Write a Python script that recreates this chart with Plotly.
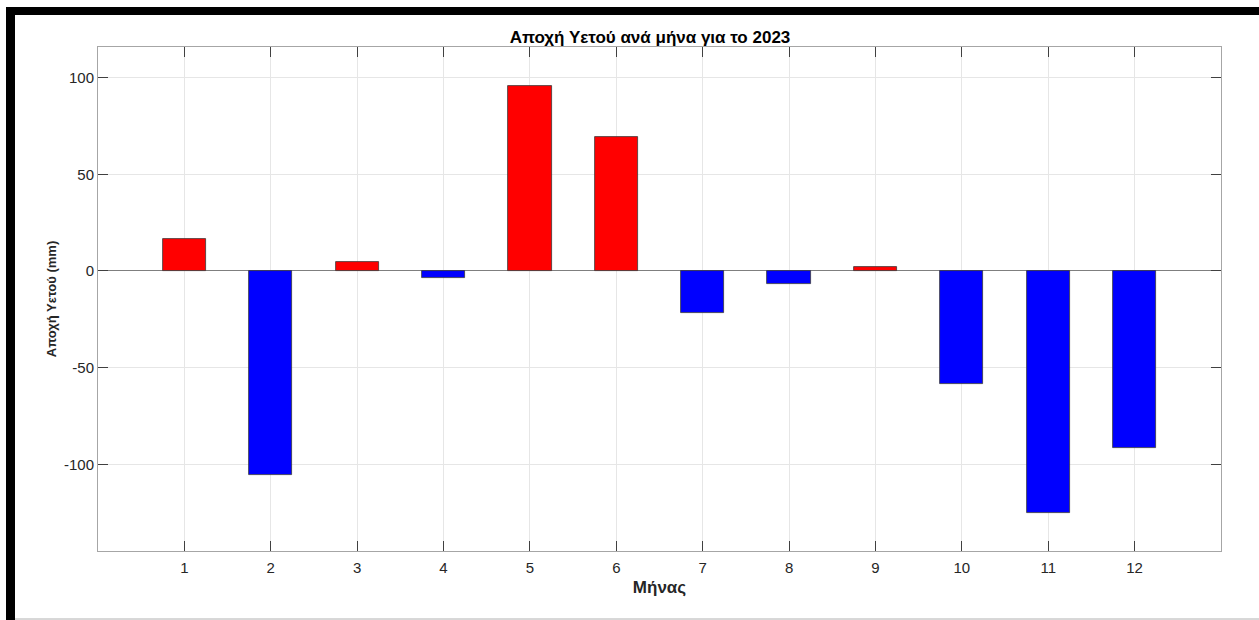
import plotly.graph_objects as go

months = [1, 2, 3, 4, 5, 6, 7, 8, 9, 10, 11, 12]
anomaly_mm = [16.5, -105.5, 4.5, -3.8, 95.8, 69.3, -21.8, -6.6, 2.0, -58.5, -125.3, -91.7]
y_ticks = [-100, -50, 0, 50, 100]
y_tick_labels = ['-100', '-50', '0', '50', '100']

W, H = 1259, 620
L, R, T, B = 98, 38, 47, 69
pw, ph = W - L - R, H - T - B

def px(x):
    return (x - L) / pw

def py(y):
    return (H - B - y) / ph

colors = ['#FF0000' if v >= 0 else '#0000FF' for v in anomaly_mm]

fig = go.Figure()
fig.add_trace(go.Bar(
    x=months, y=anomaly_mm, width=0.5,
    marker=dict(color=colors, line=dict(color='#3a3a3a', width=0.8)),
    showlegend=False,
))

font = 'Liberation Sans, Arial, sans-serif'
fig.update_layout(
    width=W, height=H,
    margin=dict(l=L, r=R, t=T, b=B),
    paper_bgcolor='white', plot_bgcolor='white',
    font=dict(family=font, size=15, color='#262626'),
    title=dict(text='<b>Αποχή Υετού ανά μήνα για το 2023</b>', x=(650 - L) / pw, xref='paper',
               xanchor='center', y=1 - 37 / H, yanchor='middle',
               font=dict(size=17, color='black')),
    bargap=0,
)
fig.update_xaxes(
    range=[0, 13], tickvals=months, ticktext=[str(m) for m in months],
    showgrid=True, gridcolor='#e6e6e6', gridwidth=1,
    showline=True, linecolor='#a6a6a6', linewidth=1, mirror='ticks',
    ticks='inside', ticklen=10, tickcolor='#404040', tickwidth=1,
    ticklabelstandoff=3,
    title=dict(text='<b>Μήνας</b>', standoff=6, font=dict(size=17, color='#262626')),
    zeroline=False,
)
fig.update_yaxes(
    range=[-144.8, 115.8], tickvals=y_ticks, ticktext=y_tick_labels,
    showgrid=True, gridcolor='#e6e6e6', gridwidth=1,
    showline=True, linecolor='#a6a6a6', linewidth=1, mirror='ticks',
    ticks='inside', ticklen=10, tickcolor='#404040', tickwidth=1,
    zeroline=True, zerolinecolor='#7f7f7f', zerolinewidth=1,
    title=dict(text='<b>Αποχή Υετού (mm)</b>', standoff=4, font=dict(size=13, color='#262626')),
)

# black frame (top and left) and faint bottom border
fig.add_shape(type='rect', xref='paper', yref='paper',
              x0=px(6), x1=px(W + 5), y0=py(15), y1=py(7),
              fillcolor='black', line=dict(width=0), layer='above')
fig.add_shape(type='rect', xref='paper', yref='paper',
              x0=px(6), x1=px(15), y0=py(H + 5), y1=py(7),
              fillcolor='black', line=dict(width=0), layer='above')
fig.add_shape(type='line', xref='paper', yref='paper',
              x0=px(15), x1=px(W), y0=py(619), y1=py(619),
              line=dict(color='#b0b0b0', width=1), layer='above')

fig.write_html('out.html', config={'displayModeBar': False},
               post_script="document.body.style.margin='0';")
